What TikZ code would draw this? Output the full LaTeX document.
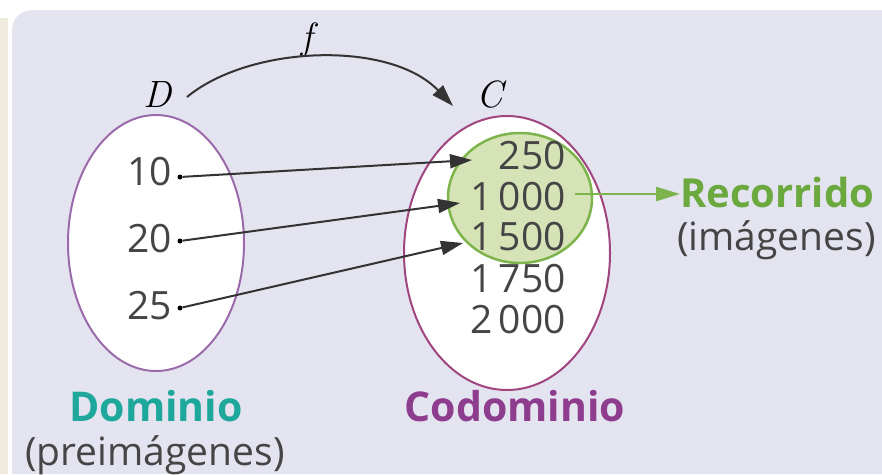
\documentclass[tikz,border=0pt]{standalone}
\usepackage{fontspec}
\setmainfont{Open Sans}
\newfontfamily\lmr{Latin Modern Roman}
\usetikzlibrary{arrows.meta}
\definecolor{panel}{HTML}{E3E4F0}
\definecolor{beige}{HTML}{F0EADD}
\definecolor{dpurple}{HTML}{9A6AAA}
\definecolor{cmag}{HTML}{A0457E}
\definecolor{gfill}{HTML}{D6E3B6}
\definecolor{gline}{HTML}{7DB54C}
\definecolor{gtext}{HTML}{6BA83E}
\definecolor{teal}{HTML}{1EA89B}
\definecolor{codo}{HTML}{8E3C8E}
\definecolor{numc}{HTML}{454545}
\tikzset{
  num/.style={font=\fontsize{39}{40}\selectfont, text=numc, inner sep=0pt},
  dotnode/.style={circle, fill=black, inner sep=0pt, minimum size=5pt},
  maparrow/.style={draw=black!80, line width=2pt, -{Triangle[length=22pt,width=14pt]}},
  setlabel/.style={font=\fontsize{38}{40}\selectfont\lmr\itshape, inner sep=0pt},
  title/.style={font=\fontsize{41}{44}\selectfont\bfseries, inner sep=0pt},
  sub/.style={font=\fontsize{39}{41}\selectfont, text=numc, inner sep=0pt}
}
\begin{document}
\begin{tikzpicture}[x=1pt,y=-1pt]
\useasboundingbox (0,0) rectangle (882,474);
\fill[white] (0,0) rectangle (882,474);
\fill[beige] (0,18) rectangle (8,474);
\fill[panel] (12,474) [rounded corners=20pt] -- (12,10) [sharp corners] -- (882,10) -- (882,474) -- cycle;
% ellipses
\draw[dpurple, line width=2pt, fill=white] (156,243) ellipse [x radius=88, y radius=128];
\draw[cmag, line width=2pt, fill=white] (507,253) ellipse [x radius=103, y radius=137];
\draw[gline, line width=2.5pt, fill=gfill] (520,198) ellipse [x radius=72, y radius=65];
% set labels
\node[setlabel] (D) at (158,95) {D};
\node[setlabel] (C) at (490,95) {C};
\node[setlabel] (f) at (307,40) {f};
% domain elements
\node[num, anchor=east] (n10) at (172,172) {10};
\node[num, anchor=east] (n20) at (172,239) {20};
\node[num, anchor=east] (n25) at (172,306) {25};
\node[dotnode] (d10) at (180,177) {};
\node[dotnode] (d20) at (180,241) {};
\node[dotnode] (d25) at (180,308) {};
% codomain elements
\node[num, anchor=east] (c250) at (566,156) {250};
\node[num, anchor=east] (c1000) at (566,197) {1\,000};
\node[num, anchor=east] (c1500) at (566,237) {1\,500};
\node[num, anchor=east] (c1750) at (566,279) {1\,750};
\node[num, anchor=east] (c2000) at (566,320) {2\,000};
\coordinate (t250) at (472,160);
\coordinate (t1000) at (460,203);
\coordinate (t1500) at (463,243);
\draw[maparrow] (d10) -- (t250);
\draw[maparrow] (d20) -- (t1000);
\draw[maparrow] (d25) -- (t1500);
% f arrow
\draw[black!80, line width=2pt, -{Triangle[length=22pt,width=14pt]}] (187,97) .. controls (250,45) and (390,40) .. (453,106);
% recorrido
\coordinate (gstart) at (575,194);
\node[title, font=\fontsize{40}{44}\selectfont\bfseries, text=gtext, anchor=west] (rec) at (680,192) {Recorrido};
\node[sub, anchor=west] (img) at (677,240) {(imágenes)};
\draw[gline, line width=2.5pt, -{Triangle[length=24pt,width=14pt]}] (gstart) -- (rec.west |- gstart);
% bottom labels
\node[title, text=teal] (dom) at (156,406) {Dominio};
\node[sub] (pre) at (155,455) {(preimágenes)};
\node[title, text=codo] (cod) at (515,406) {Codominio};
\end{tikzpicture}
\end{document}
